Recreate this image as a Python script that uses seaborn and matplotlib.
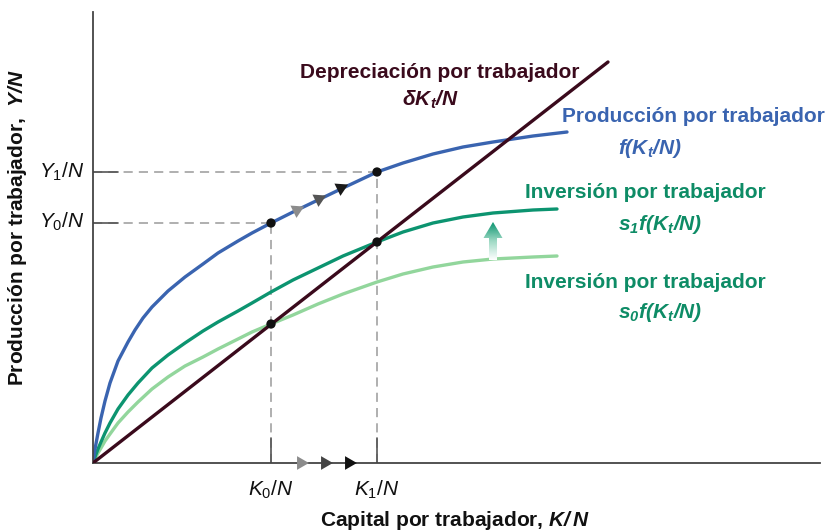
import numpy as np
import matplotlib.pyplot as plt
import seaborn as sns
from matplotlib.patches import FancyArrow

sns.set_theme(style="white")
plt.rcParams['font.family'] = ['Liberation Sans', 'DejaVu Sans']
plt.rcParams['mathtext.fontset'] = 'custom'
plt.rcParams['mathtext.rm'] = 'Liberation Sans'
plt.rcParams['mathtext.it'] = 'Liberation Sans:italic'
plt.rcParams['mathtext.bf'] = 'Liberation Sans:bold'
plt.rcParams['mathtext.bfit'] = 'Liberation Sans:italic:bold'

# valores (capital por trabajador -> produccion / inversion)
k_f = [0, 2, 5, 8, 12, 17, 25, 35, 42, 50, 59, 75, 92, 110, 125, 145, 159, 178,
       200, 225, 250, 284, 310, 340, 370, 400, 440, 474]
y_f = [0, 14, 30, 45, 62, 80, 102, 121, 133, 145, 156, 172, 186, 199, 210, 222, 230, 240,
       251, 263, 275, 291, 300, 309, 316, 321, 327, 331]

k_s1 = [0, 2, 5, 8, 12, 17, 25, 35, 45, 59, 75, 92, 110, 125, 145, 159, 178,
        200, 225, 250, 284, 310, 340, 370, 400, 440, 464]
y_s1 = [0, 6, 14, 21, 30, 40, 54, 68, 80, 95, 108, 120, 132, 141, 152, 160, 171,
        183, 195, 207, 221, 231, 240, 246, 250, 253, 254]

k_s0 = [0, 2, 5, 8, 12, 17, 25, 35, 45, 59, 75, 92, 110, 125, 145, 159, 178,
        200, 225, 250, 284, 310, 340, 370, 400, 440, 464]
y_s0 = [0, 4, 10, 15, 22, 29, 40, 51, 61, 74, 86, 97, 106, 114, 124, 131, 139,
        148, 159, 169, 181, 189, 196, 201, 204, 206, 207]

k_dep = [0, 515]
y_dep = [0, 401]

k0, k1 = 178, 284
y0, y1 = 240, 291
inv0, inv1 = 139, 221

c_blue = '#3a64b0'
c_green = '#0c9470'
c_light = '#92d69c'
c_dep = '#3a0a1c'
c_txt_green = '#0e8c66'


def px(x, y):
    return x - 93, 463 - y


fig = plt.figure(figsize=(8.29, 5.32), dpi=100)
ax = fig.add_axes([93 / 829, 69 / 532, 727 / 829, 451 / 532])
ax.set_xlim(0, 727)
ax.set_ylim(0, 451)
ax.set_xticks([])
ax.set_yticks([])
for s in ['top', 'right']:
    ax.spines[s].set_visible(False)
for s in ['left', 'bottom']:
    ax.spines[s].set_color('#444444')
    ax.spines[s].set_linewidth(1.3)

# lineas guia
dash = dict(color='#9a9a9a', lw=1.1, dashes=(6, 4), zorder=1)
ax.plot([0, k1], [y1, y1], **dash)
ax.plot([0, k0], [y0, y0], **dash)
ax.plot([k0, k0], [0, y0], **dash)
ax.plot([k1, k1], [0, y1], **dash)
solid = dict(color='#555555', lw=1.2, zorder=1.5)
ax.plot([0, 25], [y1, y1], **solid)
ax.plot([0, 25], [y0, y0], **solid)
ax.plot([k0, k0], [0, 25], **solid)
ax.plot([k1, k1], [0, 25], **solid)

sns.lineplot(x=k_s0, y=y_s0, color=c_light, lw=2.4, ax=ax, zorder=2)
sns.lineplot(x=k_s1, y=y_s1, color=c_green, lw=2.4, ax=ax, zorder=2.2)
sns.lineplot(x=k_f, y=y_f, color=c_blue, lw=2.4, ax=ax, zorder=2.4)
sns.lineplot(x=k_dep, y=y_dep, color=c_dep, lw=2.4, ax=ax, zorder=2.6)

sns.scatterplot(x=[k0, k1, k0, k1], y=[y0, y1, inv0, inv1], color='#111111',
                s=45, edgecolor='none', ax=ax, zorder=4)

# flechas sobre la curva de produccion
for (xa, ya), c in zip([(204, 253), (226, 264), (248, 275)], ['#8c8c8c', '#555555', '#1a1a1a']):
    ax.scatter([xa], [ya], marker=(3, 0, -64), s=130, color=c, zorder=5, edgecolors='none')
# flechas sobre el eje x
for xa, c in zip([208, 232, 256], ['#8c8c8c', '#444444', '#111111']):
    ax.scatter([xa], [0], marker=(3, 0, -90), s=130, color=c, zorder=5, edgecolors='none', clip_on=False)

# flecha verde hacia arriba con degradado
arr = FancyArrow(400, 203, 0, 38, width=8, head_width=19, head_length=16,
                 length_includes_head=True, transform=ax.transData, facecolor='none', edgecolor='none')
ax.add_patch(arr)
grad = np.linspace(0, 1, 100).reshape(-1, 1)
cmap = sns.blend_palette(['#ffffff', '#9ed9c4', c_green], as_cmap=True)
im = ax.imshow(grad, extent=[390, 410, 203, 241], origin='lower', cmap=cmap,
               aspect='auto', zorder=3)
im.set_clip_path(arr)

tk = dict(ha='center', va='center', fontsize=15, fontweight='bold', clip_on=False)
ax.text(*px(440, 72), 'Depreciación por trabajador', color=c_dep, **tk)
ax.text(*px(430, 100), r'$\mathbfit{\delta K_t/N}$', color=c_dep, **tk)
ax.text(*px(693, 117), 'Producción por trabajador', color=c_blue, **tk)
ax.text(*px(650, 148), r'$\mathbfit{f(K_t/N)}$', color=c_blue, **tk)
ax.text(*px(645, 192), 'Inversión por trabajador', color=c_txt_green, **tk)
ax.text(*px(660, 224), r'$\mathbfit{s_1f(K_t/N)}$', color=c_txt_green, **tk)
ax.text(*px(645, 283), 'Inversión por trabajador', color=c_txt_green, **tk)
ax.text(*px(660, 313), r'$\mathbfit{s_0f(K_t/N)}$', color=c_txt_green, **tk)

lab = dict(fontsize=15, color='#111111', clip_on=False, va='center')
ax.text(*px(84, 172), r'$\mathit{Y}_1/\mathit{N}$', ha='right', **lab)
ax.text(*px(84, 222), r'$\mathit{Y}_0/\mathit{N}$', ha='right', **lab)
ax.text(*px(271, 490), r'$\mathit{K}_0/\mathit{N}$', ha='center', **lab)
ax.text(*px(377, 490), r'$\mathit{K}_1/\mathit{N}$', ha='center', **lab)

ax.text(*px(455, 521), r'Capital por trabajador, $\mathbfit{K/\,N}$', ha='center',
        fontweight='bold', **lab)
ax.text(*px(18, 228), r'Producción por trabajador,  $\mathbfit{Y/N}$', ha='center',
        rotation=90, fontweight='bold', **lab)

fig.savefig('out.png', dpi=100)
